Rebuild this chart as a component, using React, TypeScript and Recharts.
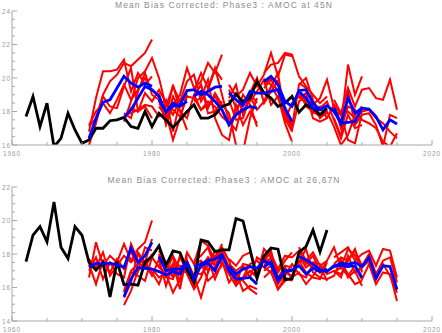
import React from 'react';
import { LineChart, Line, XAxis, YAxis } from 'recharts';

// hindcast start dates (each run is 10 years long)
const startYears = [1971, 1976, 1981, 1986, 1991, 1996, 2001, 2006];
const obsStart = 1962;
const xTicks = [1960, 1965, 1970, 1975, 1980, 1985, 1990, 1995, 2000, 2005, 2010, 2015, 2020];
const ticks45 = [16, 16.5, 17, 17.5, 18, 18.5, 19, 19.5, 20, 20.5, 21, 21.5, 22, 22.5, 23, 23.5, 24];
const ticks26 = [14, 14.5, 15, 15.5, 16, 16.5, 17, 17.5, 18, 18.5, 19, 19.5, 20, 20.5, 21, 21.5, 22];

// observed / reconstructed AMOC (black)
const obs45 = [
  17.7, 18.9, 17.1, 18.5, 15.9, 16.4, 17.9, 16.9, 16.1, 16.3,
  17.0, 17.0, 17.45, 17.5, 17.65, 17.1, 17.0, 18.0, 17.1, 17.9,
  17.5, 17.05, 17.5, 18.0, 18.4, 17.6, 17.6, 17.8, 18.3, 18.45,
  19.05, 18.55, 18.8, 19.8, 19.1, 18.8, 18.3, 18.5, 18.9, 17.95,
  18.4, 18.2, 17.8, 18.2,
];
const obs26 = [
  17.54, 19.13, 19.63, 18.73, 21.1, 18.4, 17.73, 19.63, 19.12, 17.5,
  17.04, 17.5, 15.44, 17.54, 16.17, 16.2, 16.14, 17.5, 17.86, 18.48,
  17.3, 18.18, 18.08, 17.06, 16.3, 18.84, 18.73, 18.14, 18.25, 18.25,
  20.12, 19.97, 18.3, 16.54, 17.88, 18.36, 18.29, 16.47, 16.52, 18.1,
  18.44, 19.43, 18.13, 19.43,
];

// ensemble means (blue), one row per start date
const mean45 = [
  [16.4, 17.6, 18.55, 18.7, 19.4, 20.1, 19.7, 19.45, 19.7, 19.5],
  [17.65, 18.1, 18.8, 19.5, 19.3, 18.9, 17.95, 18.5, 18.3, 18.6],
  [18.7, 18.0, 18.3, 18.4, 19.25, 19.3, 19.0, 19.2, 19.45, 19.5],
  [18.9, 19.2, 19.0, 18.6, 18.1, 17.2, 17.8, 18.1, 18.3, 18.2],
  [19.1, 18.7, 18.35, 19.2, 19.1, 19.1, 19.2, 19.3, 18.2, 17.4],
  [19.8, 20.1, 19.6, 18.6, 18.3, 19.25, 19.3, 18.5, 18.1, 18.35],
  [19.2, 18.8, 18.2, 18.1, 18.35, 18.0, 17.3, 17.35, 17.4, 18.2],
  [18.2, 17.3, 18.8, 17.9, 18.2, 18.15, 17.7, 16.9, 17.5, 17.25],
];
const mean26 = [
  [17.2, 17.45, 17.4, 17.45, 17.35, 17.2, 18.35, 17.5, 17.9, 18.7],
  [15.45, 16.5, 17.2, 17.15, 17.1, 16.95, 16.75, 16.95, 16.8, 17.45],
  [17.85, 17.0, 17.1, 17.1, 17.5, 16.5, 17.3, 17.45, 17.0, 17.9],
  [17.25, 17.4, 17.6, 17.7, 17.95, 17.0, 16.5, 16.55, 16.6, 16.2],
  [17.25, 16.8, 17.1, 17.25, 17.15, 17.6, 17.35, 16.4, 17.0, 17.0],
  [17.2, 17.55, 16.5, 16.95, 17.05, 17.3, 16.8, 17.15, 16.95, 17.1],
  [17.85, 17.65, 17.4, 17.05, 16.95, 17.3, 17.3, 17.25, 17.3, 16.6],
  [17.25, 17.45, 17.4, 17.5, 17.25, 17.8, 16.55, 17.3, 17.25, 15.87],
];

// individual members (red), four per start date
const ens45 = [
  [
    [17.1, 17.6, 19.0, 19.8, 20.2, 20.9, 20.7, 21.1, 21.5, 22.3],
    [16.8, 18.8, 20.4, 20.4, 20.5, 21.1, 19.2, 20.3, 19.6, 20.1],
    [17.2, 18.0, 18.5, 17.9, 18.7, 19.6, 18.7, 19.3, 20.0, 19.2],
    [16.0, 17.3, 18.9, 18.3, 18.2, 19.5, 20.6, 18.0, 18.3, 17.6],
  ],
  [
    [17.4, 18.6, 20.0, 20.4, 21.2, 20.0, 18.3, 19.5, 18.6, 19.1],
    [17.9, 17.6, 19.2, 20.3, 19.0, 18.7, 17.3, 18.9, 18.0, 16.9],
    [17.6, 18.2, 18.0, 19.1, 18.6, 19.3, 18.5, 17.8, 18.7, 18.7],
    [17.8, 17.9, 18.1, 18.4, 18.3, 17.7, 17.9, 16.3, 17.6, 19.0],
  ],
  [
    [19.1, 17.2, 18.4, 19.0, 20.6, 19.4, 19.8, 20.9, 20.3, 21.4],
    [18.4, 18.7, 16.8, 18.6, 19.8, 20.2, 18.6, 19.3, 20.5, 19.9],
    [18.6, 18.3, 18.1, 17.7, 18.9, 18.8, 18.1, 18.4, 18.9, 18.2],
    [18.3, 17.7, 19.6, 18.0, 17.6, 19.0, 19.6, 17.9, 18.0, 18.6],
  ],
  [
    [19.2, 20.3, 19.4, 20.6, 19.0, 17.4, 16.9, 18.6, 19.1, 18.5],
    [18.6, 18.8, 19.9, 17.6, 16.6, 16.3, 18.4, 17.2, 18.0, 17.3],
    [18.9, 19.6, 18.2, 19.1, 18.4, 17.9, 16.0, 15.6, 17.6, 18.8],
    [19.0, 18.1, 18.6, 18.3, 17.7, 17.3, 17.9, 19.0, 18.4, 17.1],
  ],
  [
    [19.6, 18.9, 19.3, 20.3, 19.5, 20.2, 21.5, 20.1, 21.4, 21.3],
    [18.8, 19.6, 17.8, 19.1, 20.0, 18.5, 19.2, 19.8, 18.0, 17.2],
    [19.3, 18.2, 18.7, 18.6, 19.2, 19.9, 18.4, 18.9, 17.3, 16.2],
    [18.7, 17.5, 17.6, 18.9, 18.1, 18.6, 19.5, 20.3, 17.6, 16.8],
  ],
  [
    [20.3, 20.8, 20.9, 21.5, 21.4, 20.1, 19.5, 19.0, 18.5, 18.9],
    [19.4, 19.9, 19.2, 18.0, 17.1, 19.6, 20.0, 18.7, 17.6, 18.0],
    [19.9, 19.6, 18.8, 17.9, 16.9, 18.6, 18.9, 17.9, 18.3, 17.6],
    [19.6, 20.0, 19.8, 17.5, 18.5, 18.9, 18.5, 18.0, 17.7, 17.9],
  ],
  [
    [19.7, 19.4, 18.4, 18.8, 19.9, 18.2, 17.2, 20.8, 19.0, 20.1],
    [19.0, 18.6, 18.5, 17.7, 18.0, 17.1, 16.0, 16.6, 17.8, 18.3],
    [18.8, 19.1, 17.6, 17.4, 17.6, 18.4, 17.8, 16.3, 16.1, 17.9],
    [19.3, 18.3, 18.0, 18.2, 18.6, 17.5, 16.4, 17.8, 17.0, 17.2],
  ],
  [
    [18.7, 17.9, 19.4, 18.3, 19.3, 19.4, 18.8, 18.7, 19.9, 18.1],
    [17.6, 16.5, 19.2, 17.2, 17.8, 17.9, 17.2, 15.9, 17.8, 17.6],
    [18.4, 17.0, 18.3, 18.1, 17.5, 17.3, 17.0, 16.2, 15.9, 16.7],
    [18.0, 17.8, 18.0, 17.6, 18.0, 18.1, 17.6, 17.3, 16.8, 16.4],
  ],
];
const ens26 = [
  [
    [16.6, 18.7, 17.3, 17.9, 17.5, 18.6, 17.6, 18.3, 18.7, 20.0],
    [17.4, 16.2, 17.6, 16.9, 17.7, 17.1, 18.2, 17.0, 18.4, 18.2],
    [17.0, 17.8, 16.5, 17.5, 16.8, 16.6, 18.6, 17.6, 17.5, 18.9],
    [17.7, 17.2, 18.1, 16.7, 17.3, 17.9, 17.5, 18.0, 17.2, 18.0],
  ],
  [
    [14.95, 15.8, 17.0, 17.4, 16.7, 17.7, 16.1, 17.4, 15.9, 18.0],
    [15.4, 16.3, 18.1, 17.5, 16.9, 16.2, 17.3, 16.6, 17.8, 17.1],
    [15.7, 16.9, 16.7, 16.4, 17.8, 17.2, 16.8, 15.7, 16.5, 17.8],
    [15.8, 17.0, 17.4, 17.3, 17.1, 16.6, 16.9, 17.9, 17.0, 16.9],
  ],
  [
    [18.2, 17.5, 17.8, 16.3, 18.1, 17.4, 18.8, 18.5, 17.6, 18.6],
    [17.4, 16.6, 16.5, 17.9, 16.8, 15.9, 16.6, 17.7, 16.5, 17.5],
    [17.9, 17.3, 16.7, 17.0, 17.6, 16.7, 15.4, 16.9, 17.8, 18.1],
    [18.0, 16.9, 17.4, 17.3, 17.2, 16.1, 17.5, 16.4, 16.8, 17.3],
  ],
  [
    [17.6, 17.9, 18.4, 17.2, 18.4, 17.6, 16.2, 17.4, 17.3, 16.9],
    [16.9, 16.8, 17.3, 18.2, 17.6, 16.3, 16.9, 15.8, 16.1, 15.9],
    [17.4, 17.6, 17.0, 17.9, 18.2, 17.2, 16.4, 16.5, 17.0, 16.6],
    [17.1, 17.2, 17.8, 17.4, 17.5, 16.8, 16.7, 16.4, 15.9, 15.6],
  ],
  [
    [17.7, 17.3, 17.9, 18.1, 16.8, 18.3, 17.8, 16.9, 17.6, 18.1],
    [16.8, 16.1, 16.6, 17.4, 17.6, 17.2, 16.9, 15.9, 16.6, 16.4],
    [17.4, 17.0, 17.3, 16.6, 17.8, 17.5, 18.2, 16.5, 17.3, 17.2],
    [17.0, 16.7, 16.5, 17.0, 16.7, 17.8, 17.4, 16.2, 16.9, 16.7],
  ],
  [
    [17.8, 18.0, 17.1, 17.9, 17.8, 18.2, 17.4, 17.9, 16.9, 17.6],
    [16.6, 17.0, 15.9, 16.4, 16.6, 16.9, 16.2, 16.7, 17.3, 16.4],
    [17.3, 17.8, 16.6, 17.2, 16.5, 17.6, 16.9, 16.6, 16.5, 17.5],
    [17.0, 17.3, 16.3, 16.7, 17.4, 16.8, 16.6, 17.4, 17.1, 16.9],
  ],
  [
    [18.4, 17.6, 18.1, 17.3, 17.6, 18.4, 17.2, 18.3, 17.9, 17.0],
    [17.5, 18.3, 16.9, 16.6, 16.5, 16.7, 17.7, 16.6, 17.0, 16.1],
    [17.9, 17.2, 17.5, 17.4, 16.8, 17.0, 16.8, 17.6, 18.3, 16.9],
    [17.6, 17.5, 17.2, 16.9, 17.0, 17.2, 17.5, 16.8, 16.2, 16.4],
  ],
  [
    [17.8, 18.1, 18.4, 17.6, 18.0, 18.2, 17.3, 18.3, 18.2, 16.6],
    [16.9, 17.2, 16.7, 17.3, 16.5, 17.4, 16.2, 16.9, 16.8, 15.2],
    [17.4, 17.8, 17.6, 18.2, 17.3, 18.0, 16.8, 17.6, 17.8, 16.3],
    [17.0, 16.6, 17.9, 16.9, 17.2, 17.6, 16.5, 17.4, 16.7, 15.7],
  ],
];

const AXIS = '#a8a8a8';
const LABEL = '#9a9a9a';
const FONT = 'Liberation Sans, Arial, sans-serif';

const buildRows = (obs: number[], means: number[][], members: number[][][]) => {
  const rows: any[] = [];
  for (let yr = 1960; yr <= 2016; yr++) {
    const row: any = { year: yr };
    const oi = yr - obsStart;
    if (oi >= 0 && oi < obs.length) row.obs = obs[oi];
    startYears.forEach((s, i) => {
      const k = yr - s;
      if (k >= 0 && k < 10) {
        row[`mean${i}`] = means[i][k];
        members[i].forEach((m, j) => {
          row[`mem${i}_${j}`] = m[k];
        });
      }
    });
    rows.push(row);
  }
  return rows;
};

const rows45 = buildRows(obs45, mean45, ens45);
const rows26 = buildRows(obs26, mean26, ens26);

const LeftTick = ({ x, y, payload }: any) => {
  const v = payload.value;
  const major = v % 2 === 0;
  return (
    <g>
      <line x1={x} x2={x + (major ? 5 : 3)} y1={y} y2={y} stroke={AXIS} />
      {major && (
        <text x={x - 1} y={y + 2.5} textAnchor="end" fontSize={6.5} letterSpacing={0.9} fill={LABEL} fontFamily={FONT}>
          {v}
        </text>
      )}
    </g>
  );
};

const RightTick = ({ x, y, payload }: any) => {
  const major = payload.value % 2 === 0;
  return <line x1={x - (major ? 5 : 3)} x2={x} y1={y} y2={y} stroke={AXIS} />;
};

const BottomTick = ({ x, y, payload }: any) => {
  const v = payload.value;
  const major = v % 20 === 0;
  return (
    <g>
      <line x1={x} x2={x} y1={y} y2={y - (major ? 5 : 3)} stroke={AXIS} />
      {major && (
        <text x={x} y={y + 11} textAnchor="middle" fontSize={6.5} letterSpacing={0.9} fill={LABEL} fontFamily={FONT}>
          {v}
        </text>
      )}
    </g>
  );
};

const TopTick = ({ x, y, payload }: any) => {
  const major = payload.value % 20 === 0;
  return <line x1={x} x2={x} y1={y} y2={y + (major ? 5 : 3)} stroke={AXIS} />;
};

type PanelProps = {
  title: string;
  rows: any[];
  yDomain: [number, number];
  yTicks: number[];
  top: number;
  height: number;
  marginTop: number;
  xAxisHeight: number;
  titleY: number;
};

const Panel = ({ title, rows, yDomain, yTicks, top, height, marginTop, xAxisHeight, titleY }: PanelProps) => (
  <div style={{ position: 'absolute', left: 0, top, width: 442, height }}>
    <div
      style={{
        position: 'absolute',
        left: 0,
        top: titleY,
        width: 448,
        textAlign: 'center',
        fontFamily: FONT,
        fontSize: 8.5,
        letterSpacing: 1.1,
        color: '#8c8c8c',
        lineHeight: '10px',
        whiteSpace: 'nowrap',
      }}
    >
      {title}
    </div>
    <LineChart width={442} height={height} data={rows} margin={{ top: marginTop, right: 10, bottom: 0, left: 0 }}>
      <XAxis
        dataKey="year"
        type="number"
        domain={[1960, 2020]}
        ticks={xTicks}
        interval={0}
        height={xAxisHeight}
        tickSize={0}
        tickMargin={0}
        tickLine={false}
        axisLine={{ stroke: AXIS }}
        tick={(p: any) => <BottomTick {...p} />}
      />
      <XAxis
        xAxisId="top"
        orientation="top"
        dataKey="year"
        type="number"
        domain={[1960, 2020]}
        ticks={xTicks}
        interval={0}
        height={0}
        tickSize={0}
        tickMargin={0}
        tickLine={false}
        axisLine={{ stroke: AXIS }}
        tick={(p: any) => <TopTick {...p} />}
      />
      <YAxis
        type="number"
        domain={yDomain}
        ticks={yTicks}
        interval={0}
        allowDataOverflow
        width={12}
        tickSize={0}
        tickMargin={0}
        tickLine={false}
        axisLine={{ stroke: AXIS }}
        tick={(p: any) => <LeftTick {...p} />}
      />
      <YAxis
        yAxisId="right"
        orientation="right"
        type="number"
        domain={yDomain}
        ticks={yTicks}
        interval={0}
        allowDataOverflow
        width={0}
        tickSize={0}
        tickMargin={0}
        tickLine={false}
        axisLine={{ stroke: AXIS }}
        tick={(p: any) => <RightTick {...p} />}
      />
      {startYears.map((s, i) =>
        [0, 1, 2, 3].map((j) => (
          <Line
            key={`mem${i}_${j}`}
            dataKey={`mem${i}_${j}`}
            stroke="#ff0000"
            strokeWidth={2}
            dot={false}
            activeDot={false}
            isAnimationActive={false}
          />
        ))
      )}
      <Line dataKey="obs" stroke="#000000" strokeWidth={2.8} dot={false} activeDot={false} isAnimationActive={false} />
      {startYears.map((s, i) => (
        <Line
          key={`mean${i}`}
          dataKey={`mean${i}`}
          stroke="#0000ff"
          strokeWidth={2.8}
          dot={false}
          activeDot={false}
          isAnimationActive={false}
        />
      ))}
    </LineChart>
  </div>
);

export default function App() {
  return (
    <div style={{ position: 'absolute', left: 0, top: 0, width: 442, height: 333, background: '#fff' }}>
      <Panel
        title="Mean Bias Corrected: Phase3 : AMOC at 45N"
        rows={rows45}
        yDomain={[16, 24]}
        yTicks={ticks45}
        top={0}
        height={166}
        marginTop={11}
        xAxisHeight={21}
        titleY={0}
      />
      <Panel
        title="Mean Bias Corrected: Phase3 : AMOC at 26,67N"
        rows={rows26}
        yDomain={[14, 22]}
        yTicks={ticks26}
        top={166}
        height={167}
        marginTop={21}
        xAxisHeight={12}
        titleY={9}
      />
    </div>
  );
}
